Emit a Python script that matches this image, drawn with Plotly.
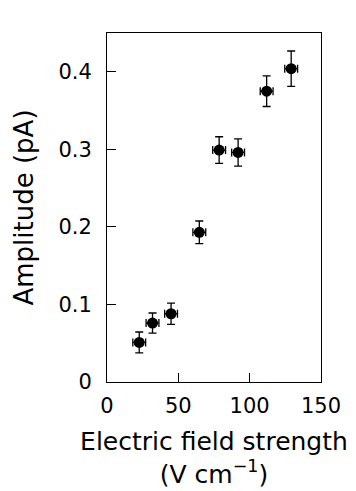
import plotly.graph_objects as go

field = [22.6, 31.9, 44.9, 64.7, 78.6, 91.9, 111.9, 129.1]
field_err = [4.5, 4.5, 4.5, 4.5, 4.5, 4.5, 4.5, 4.5]
amplitude = [0.051, 0.076, 0.088, 0.193, 0.299, 0.296, 0.375, 0.404]
amp_err = [0.0135, 0.013, 0.0138, 0.0146, 0.0172, 0.0176, 0.0198, 0.0228]

x_ticks = [0, 50, 100, 150]
y_ticks = [0, 0.1, 0.2, 0.3, 0.4]
y_ticklabels = ["0", "0.1", "0.2", "0.3", "0.4"]

FONT = "DejaVu Sans"

fig = go.Figure(
    go.Scatter(
        x=field, y=amplitude, mode="markers",
        marker=dict(color="black", size=11),
        error_y=dict(type="data", array=amp_err, color="black", thickness=1.3, width=4),
        error_x=dict(type="data", array=field_err, color="black", thickness=1.3, width=4),
        showlegend=False,
    )
)

fig.update_layout(
    width=356, height=491,
    margin=dict(l=107, r=35, t=33, b=109),
    paper_bgcolor="white", plot_bgcolor="white",
    font=dict(family=FONT, color="black", size=18),
)
fig.update_xaxes(
    range=[0, 150], tickvals=x_ticks, ticks="inside", ticklen=9, tickwidth=1,
    tickcolor="black", showline=True, linecolor="black", linewidth=1, mirror=True,
    showgrid=False, zeroline=False, tickfont=dict(size=21), ticklabelstandoff=5,
    automargin=False,
    title=dict(text="Electric field strength<br>(V cm<sup>−1</sup>)", font=dict(size=25), standoff=15),
)
fig.update_yaxes(
    range=[0, 0.45], tickvals=y_ticks, ticktext=y_ticklabels, ticks="inside", ticklen=9,
    tickwidth=1, tickcolor="black", showline=True, linecolor="black", linewidth=1,
    mirror=True, showgrid=False, zeroline=False, tickfont=dict(size=21), ticklabelstandoff=10,
    automargin=False,
    title=dict(text="Amplitude (pA)", font=dict(size=26), standoff=17),
)

fig.write_html("out.html")
